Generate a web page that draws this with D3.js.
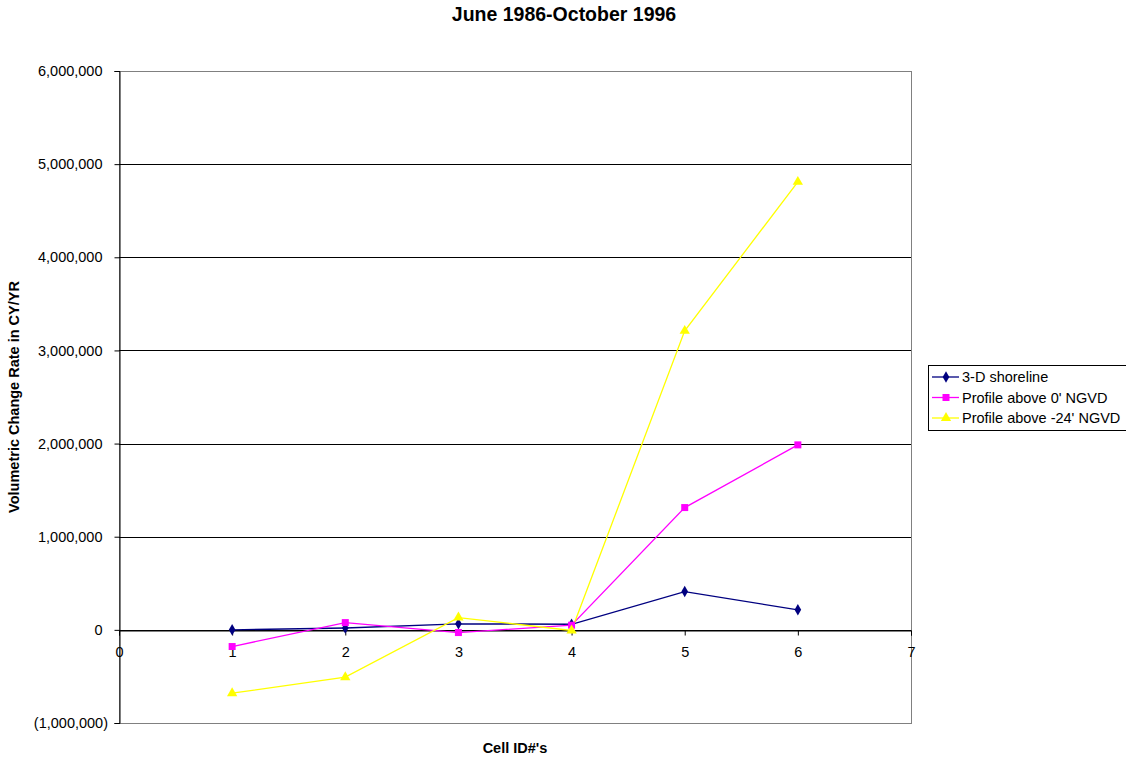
<!DOCTYPE html>
<html>
<head>
<meta charset="utf-8">
<script src="https://cdn.jsdelivr.net/npm/d3@7"></script>
<style>
  html, body { margin: 0; padding: 0; background: #fff; }
  svg { display: block; font-family: "Liberation Sans", Arial, sans-serif; }
</style>
</head>
<body>
<svg id="chart" width="1126" height="759"></svg>
<script>
// Cell IDs along the x axis
const cells = [1, 2, 3, 4, 5, 6];

// Volumetric change rates (CY/YR) per cell
const shoreline3D = [0, 20000, 65000, 60000, 411000, 215000];
const profileAbove0 = [-179000, 78000, -29000, 50000, 1313000, 1986000];
const profileAboveMinus24 = [-680000, -508000, 132000, -7000, 3210000, 4810000];

const xTicks = [0, 1, 2, 3, 4, 5, 6, 7];
const yTicks = [-1000000, 0, 1000000, 2000000, 3000000, 4000000, 5000000, 6000000];

const seriesNames = ["3-D shoreline", "Profile above 0' NGVD", "Profile above -24' NGVD"];
const seriesColors = ["#000080", "#ff00ff", "#ffff00"];
const seriesValues = [shoreline3D, profileAbove0, profileAboveMinus24];
const seriesMarkers = [d3.symbolDiamond, d3.symbolSquare, d3.symbolTriangle];
const markerSizes = [38, 49, 46];

const svg = d3.select("#chart");
const plot = { left: 119, right: 911, top: 71, bottom: 723 };
const labelFont = 14.5;

const x = d3.scaleLinear().domain([0, 7]).range([plot.left, plot.right]);
const y = d3.scaleLinear().domain([-1000000, 6000000]).range([plot.bottom, plot.top]);

// Plot frame
svg.append("rect")
  .attr("x", plot.left + 0.5).attr("y", plot.top + 0.5)
  .attr("width", plot.right - plot.left).attr("height", plot.bottom - plot.top)
  .attr("fill", "#fff").attr("stroke", "#808080").attr("stroke-width", 1);

// Horizontal gridlines
svg.append("g").selectAll("line")
  .data(yTicks.filter(t => t !== -1000000 && t !== 6000000))
  .join("line")
  .attr("x1", plot.left).attr("x2", plot.right)
  .attr("y1", d => Math.round(y(d)) + 0.5).attr("y2", d => Math.round(y(d)) + 0.5)
  .attr("stroke", "#000").attr("stroke-width", 1);

// Y axis (accounting format: negatives in parentheses)
const fmt = v => v < 0 ? "(" + d3.format(",")(-v) + ")" : d3.format(",")(v);
const yAxis = svg.append("g")
  .attr("transform", `translate(${plot.left + 0.5},0)`)
  .call(d3.axisLeft(y).tickValues(yTicks).tickFormat(fmt).tickSize(5));
yAxis.select(".domain").attr("stroke", "#000");
yAxis.selectAll(".tick line").attr("stroke", "#000");
yAxis.selectAll(".tick text")
  .attr("x", d => d < 0 ? -11.5 : -17)
  .attr("font-size", labelFont).attr("fill", "#000")
  .attr("font-family", "Liberation Sans, Arial, sans-serif");

// X axis crossing at zero
const xAxis = svg.append("g")
  .attr("transform", `translate(0,${Math.round(y(0)) + 0.5})`)
  .call(d3.axisBottom(x).tickValues(xTicks).tickFormat(d3.format("d")).tickSize(5).tickPadding(11));
xAxis.select(".domain").attr("stroke", "#000");
xAxis.selectAll(".tick line").attr("stroke", "#000");
xAxis.selectAll(".tick text")
  .attr("font-size", labelFont).attr("fill", "#000")
  .attr("font-family", "Liberation Sans, Arial, sans-serif");

// Series lines and markers
const line = d3.line().x((d, i) => x(cells[i])).y(d => y(d));
seriesValues.forEach((vals, s) => {
  svg.append("path")
    .datum(vals)
    .attr("d", line)
    .attr("fill", "none")
    .attr("stroke", seriesColors[s])
    .attr("stroke-width", 1.3);
});
seriesValues.forEach((vals, s) => {
  const sym = d3.symbol().type(seriesMarkers[s]).size(markerSizes[s]);
  svg.append("g").selectAll("path")
    .data(vals)
    .join("path")
    .attr("d", sym)
    .attr("transform", (d, i) => `translate(${x(cells[i])},${y(d)})`)
    .attr("fill", seriesColors[s]);
});

// Titles
svg.append("text")
  .attr("x", 564).attr("y", 21)
  .attr("text-anchor", "middle")
  .attr("font-size", 19.5).attr("font-weight", "bold")
  .text("June 1986-October 1996");

svg.append("text")
  .attr("x", 515).attr("y", 753)
  .attr("text-anchor", "middle")
  .attr("font-size", labelFont).attr("font-weight", "bold")
  .text("Cell ID#'s");

svg.append("text")
  .attr("transform", "translate(19,397) rotate(-90)")
  .attr("text-anchor", "middle")
  .attr("font-size", labelFont).attr("font-weight", "bold")
  .text("Volumetric Change Rate in CY/YR");

// Legend
const legend = svg.append("g").attr("transform", "translate(928,365)");
legend.append("rect")
  .attr("x", 0.5).attr("y", 0.5).attr("width", 210).attr("height", 65)
  .attr("fill", "#fff").attr("stroke", "#000").attr("stroke-width", 1);
seriesNames.forEach((name, s) => {
  const cy = 12 + s * 20.5;
  legend.append("line")
    .attr("x1", 4).attr("x2", 31).attr("y1", cy).attr("y2", cy)
    .attr("stroke", seriesColors[s]).attr("stroke-width", 1.3);
  legend.append("path")
    .attr("d", d3.symbol().type(seriesMarkers[s]).size(markerSizes[s])())
    .attr("transform", `translate(18,${cy})`)
    .attr("fill", seriesColors[s]);
  legend.append("text")
    .attr("x", 34).attr("y", cy + 5)
    .attr("font-size", labelFont)
    .text(name);
});
</script>
</body>
</html>
